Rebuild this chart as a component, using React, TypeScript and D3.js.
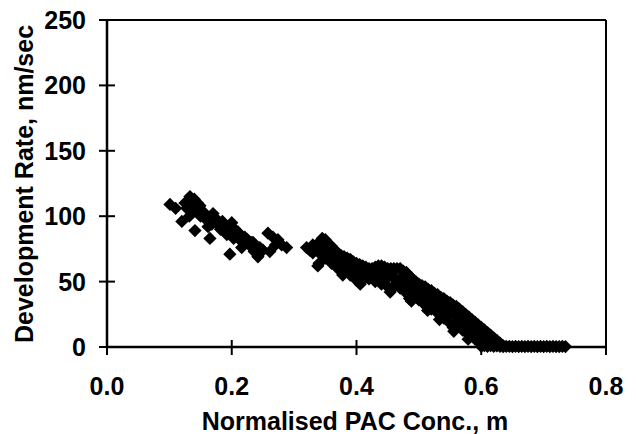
import React from "react";
import * as d3 from "d3";

const xTicks = [0.0, 0.2, 0.4, 0.6, 0.8];
const yTicks = [0, 50, 100, 150, 200, 250];
const xTitle = "Normalised PAC Conc., m";
const yTitle = "Development Rate, nm/sec";

// cluster 1 (low concentration)
const x1 = [0.101, 0.11, 0.12, 0.125, 0.13, 0.133, 0.138, 0.141, 0.145, 0.149, 0.15, 0.155, 0.16, 0.165, 0.17, 0.175, 0.18, 0.185, 0.19, 0.197, 0.2, 0.205, 0.21, 0.216, 0.221, 0.225, 0.234, 0.238, 0.242, 0.25, 0.258, 0.261, 0.266, 0.274, 0.28, 0.288, 0.128, 0.136, 0.143, 0.152, 0.158, 0.163, 0.172, 0.178, 0.188, 0.195, 0.208, 0.213, 0.228, 0.231, 0.245, 0.14, 0.147, 0.156, 0.168, 0.182, 0.192, 0.203, 0.218, 0.236, 0.132, 0.162, 0.27];
const y1 = [109, 106, 96, 110, 112, 115, 104, 89, 110, 108, 100, 103, 97, 83, 102, 98, 93, 96, 91, 71, 95, 90, 88, 76, 84, 82, 80, 75, 69, 74, 87, 73, 84, 82, 78, 76, 106, 108, 106, 104, 101, 98, 96, 94, 92, 88, 85, 82, 78, 80, 76, 113, 104, 99, 94, 90, 86, 83, 80, 73, 100, 92, 78];

// cluster 2 (mid concentration)
const x2 = [
  0.32, 0.325, 0.33, 0.33, 0.335, 0.34, 0.34, 0.34, 0.345, 0.345, 0.35, 0.35, 0.35, 0.355, 0.355,
  0.36, 0.36, 0.36, 0.365, 0.365, 0.37, 0.37, 0.37, 0.375, 0.375, 0.38, 0.38, 0.38, 0.385, 0.385,
  0.39, 0.39, 0.39, 0.395, 0.395, 0.4, 0.4, 0.4, 0.405, 0.405, 0.41, 0.41, 0.41, 0.415, 0.415,
  0.42, 0.42, 0.42, 0.425, 0.425, 0.43, 0.43, 0.43, 0.435, 0.435, 0.44, 0.44, 0.44, 0.445, 0.445,
  0.45, 0.45, 0.45, 0.455, 0.455, 0.46, 0.46, 0.46, 0.465, 0.465, 0.47, 0.47, 0.47, 0.475, 0.475,
  0.48, 0.48, 0.48, 0.485, 0.485, 0.49, 0.49, 0.49, 0.495, 0.495, 0.5, 0.5, 0.5, 0.505, 0.505,
  0.51, 0.51, 0.51, 0.515, 0.515, 0.52, 0.52, 0.52, 0.525, 0.525, 0.53, 0.53, 0.53, 0.535, 0.535,
  0.54, 0.54, 0.54, 0.545, 0.545, 0.55, 0.55, 0.55, 0.555, 0.555, 0.56, 0.56, 0.56, 0.565, 0.565,
  0.57, 0.57, 0.57, 0.575, 0.575, 0.58, 0.58, 0.58, 0.585, 0.585, 0.59, 0.59, 0.59, 0.595, 0.595,
  0.6, 0.6, 0.6, 0.605, 0.605, 0.61, 0.61, 0.61, 0.615, 0.615, 0.62, 0.62, 0.625, 0.63, 0.635,
  0.338, 0.378, 0.406, 0.454, 0.488, 0.514, 0.533, 0.556, 0.579,
];
const y2 = [
  76, 74, 78, 72, 75, 80, 72, 64, 83, 76, 82, 74, 68, 79, 70,
  77, 70, 64, 74, 66, 72, 66, 60, 70, 62, 69, 63, 57, 68, 60,
  67, 60, 55, 65, 58, 64, 58, 51, 63, 55, 62, 56, 51, 61, 54,
  60, 56, 52, 60, 54, 61, 55, 50, 62, 56, 62, 55, 48, 61, 53,
  60, 53, 46, 60, 44, 60, 53, 47, 60, 50, 60, 52, 45, 58, 48,
  57, 48, 41, 54, 37, 52, 45, 39, 50, 42, 48, 42, 36, 47, 39,
  46, 38, 32, 44, 30, 43, 35, 29, 41, 33, 40, 32, 26, 38, 24,
  37, 29, 22, 35, 25, 34, 26, 18, 32, 15, 31, 23, 17, 29, 20,
  27, 20, 13, 25, 16, 23, 16, 9, 21, 12, 19, 12, 6, 17, 9,
  15, 8, 2, 13, 5, 11, 5, 1, 9, 3, 7, 2, 5, 3, 1,
  62, 55, 48, 42, 35, 28, 21, 12, 6,
];

// cluster 3 (zero rate plateau)
const x3 = [0.6, 0.605, 0.61, 0.615, 0.62, 0.625, 0.63, 0.635, 0.64, 0.645, 0.65, 0.655, 0.66, 0.665, 0.67, 0.675, 0.68, 0.685, 0.69, 0.695, 0.7, 0.705, 0.71, 0.715, 0.72, 0.725, 0.73, 0.735];
const y3 = [0.5, 1, 0.5, 1, 0.5, 0.8, 0.5, 0.3, 0.5, 0.4, 0.3, 0.5, 0.3, 0.4, 0.3, 0.5, 0.3, 0.4, 0.3, 0.4, 0.3, 0.5, 0.3, 0.4, 0.3, 0.3, 0.4, 0.3];

const W = 636;
const H = 434;
const L = 107, R = 606, T = 20, B = 347;
const font = "'Liberation Sans', Arial, sans-serif";

export default function App() {
  const x = d3.scaleLinear().domain([0, 0.8]).range([L, R]);
  const y = d3.scaleLinear().domain([0, 250]).range([B, T]);
  const pts: [number, number][] = [];
  [[x1, y1], [x2, y2], [x3, y3]].forEach(([xs, ys]) =>
    xs.forEach((v, i) => pts.push([v, ys[i]]))
  );
  const sym = d3.symbol().type(d3.symbolSquare).size(88)();
  return (
    <svg width={W} height={H} style={{ position: "absolute", left: 0, top: 0, background: "#fff" }}>
      <rect x={0} y={0} width={W} height={H} fill="#fff" />
      <line x1={L} x2={R} y1={T} y2={T} stroke="#000" strokeWidth={2} />
      <line x1={R} x2={R} y1={T} y2={B} stroke="#000" strokeWidth={2} />
      <line x1={L} x2={L} y1={T} y2={B + 1} stroke="#000" strokeWidth={2.5} />
      <line x1={L} x2={R} y1={B} y2={B} stroke="#000" strokeWidth={2.5} />
      {yTicks.map((t) => (
        <g key={"y" + t}>
          <line x1={L - 8} x2={L + 8} y1={y(t)} y2={y(t)} stroke="#000" strokeWidth={2} />
          <text x={L - 21} y={y(t)} dy="0.36em" textAnchor="end" fontFamily={font} fontWeight="bold" fontSize={25} fill="#000">
            {t}
          </text>
        </g>
      ))}
      {xTicks.map((t) => (
        <g key={"x" + t}>
          <line x1={x(t)} x2={x(t)} y1={B - 7} y2={B + 8} stroke="#000" strokeWidth={2} />
          <text x={x(t)} y={395} textAnchor="middle" fontFamily={font} fontWeight="bold" fontSize={25} fill="#000">
            {t.toFixed(1)}
          </text>
        </g>
      ))}
      {pts.map(([a, b], i) => (
        <path key={i} d={sym as string} transform={`translate(${x(a)},${y(b)}) rotate(45)`} fill="#000" />
      ))}
      <text x={355} y={430} textAnchor="middle" fontFamily={font} fontWeight="bold" fontSize={25} fill="#000">
        {xTitle}
      </text>
      <text transform={`translate(33,184) rotate(-90)`} textAnchor="middle" fontFamily={font} fontWeight="bold" fontSize={25} fill="#000">
        {yTitle}
      </text>
    </svg>
  );
}
